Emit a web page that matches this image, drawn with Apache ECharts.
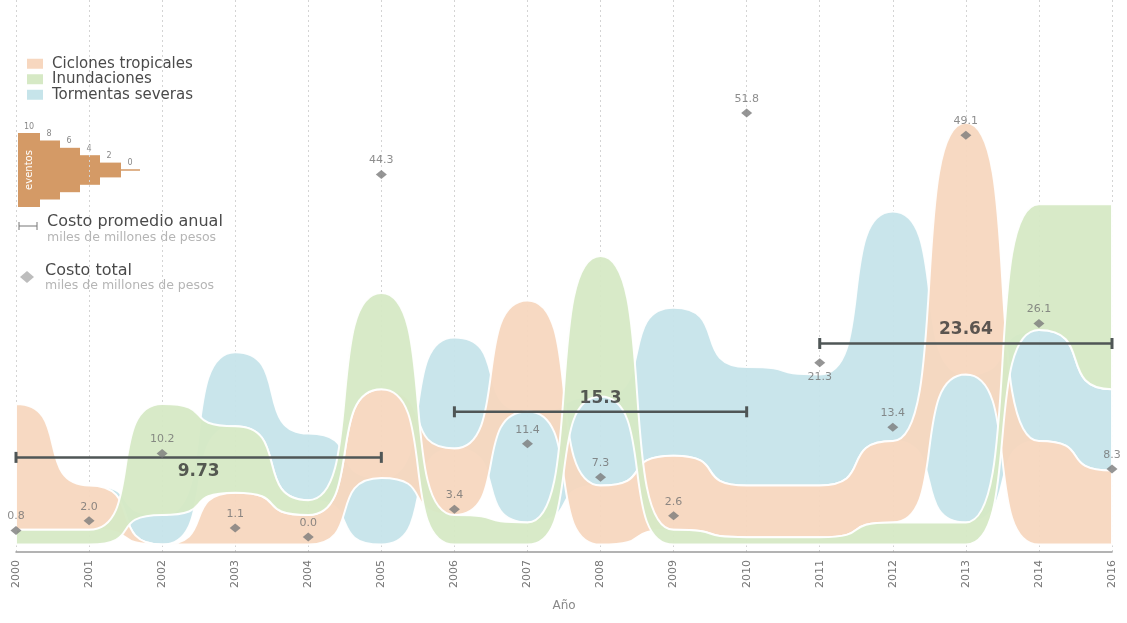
<!DOCTYPE html>
<html>
<head>
<meta charset="utf-8">
<script src="https://cdn.jsdelivr.net/npm/echarts@6/dist/echarts.min.js"></script>
<style>
html,body{margin:0;padding:0;background:#fff;}
#chart{width:1127px;height:623px;}
</style>
</head>
<body>
<div id="chart"></div>
<script>
// ---- data ----
const years = [2000,2001,2002,2003,2004,2005,2006,2007,2008,2009,2010,2011,2012,2013,2014,2015];
const yearLabels = ['2000','2001','2002','2003','2004','2005','2006','2007','2008','2009','2010','2011','2012','2013','2014','2016'];
// number of events per year
const ciclones      = [17, 6, 0, 7, 4,12, 9,15, 8,10, 7, 7,11,34,14,10];
const inundaciones  = [ 2, 2,15, 9, 2,13, 4, 3,19, 2, 1, 1, 3, 3,17,25];
const tormentas     = [ 0, 0, 4,10, 9, 9,15,15,12,20,16,15,31,20,15,11];
// stacking order per year, bottom -> top (C ciclones, I inundaciones, T tormentas)
const stackOrder = ['ICT','ICT','CTI','CIT','CIT','TCI','ICT','ITC','CTI','ICT','ICT','ICT','ICT','ITC','CTI','CTI'];
// total cost, miles de millones de pesos
const costoTotal = [0.8, 2.0, 10.2, 1.1, 0.0, 44.3, 3.4, 11.4, 7.3, 2.6, 51.8, 21.3, 13.4, 49.1, 26.1, 8.3];
// average annual cost segments
const avgStart = [2000, 2006, 2011];
const avgEnd   = [2005, 2010, 2015];
const avgValue = [9.73, 15.3, 23.64];
const avgLabelPos = ['bottom', 'top', 'top'];

// drawing order: first drawn is at the back
const types = [
  {key:'T', name:'Tormentas severas',   data:tormentas,    color:'#c6e4ea'},
  {key:'C', name:'Ciclones tropicales', data:ciclones,     color:'#f7d7bf'},
  {key:'I', name:'Inundaciones',        data:inundaciones, color:'#d6e9c5'}
];
const byKey = {C:ciclones, I:inundaciones, T:tormentas};

function bounds(key) {
  const lower = years.map((y, i) => {
    let s = 0;
    for (const k of stackOrder[i]) { if (k === key) break; s += byKey[k][i]; }
    return s;
  });
  const upper = lower.map((v, i) => v + byKey[key][i]);
  return {lower, upper};
}

const K = 0.75;
function curve(pts) {
  let d = '';
  for (let i = 1; i < pts.length; i++) {
    const p0 = pts[i-1], p1 = pts[i];
    const dx = p1[0] - p0[0];
    d += ` C${p0[0]+dx*K},${p0[1]} ${p1[0]-dx*K},${p1[1]} ${p1[0]},${p1[1]}`;
  }
  return d;
}

const series = [];
types.forEach((t, idx) => {
  const b = bounds(t.key);
  series.push({
    type:'custom', name:t.name, coordinateSystem:'cartesian2d', silent:true, z:1 + idx * 0.1,
    itemStyle:{color:t.color},
    data:[[2000, 0]],
    renderItem:(params, api) => {
      const top = years.map((y,i)=>api.coord([y, b.upper[i]]));
      const bot = years.map((y,i)=>api.coord([y, b.lower[i]])).reverse();
      const d = `M${top[0][0]},${top[0][1]}` + curve(top) +
                ` L${bot[0][0]},${bot[0][1]}` + curve(bot) + ' Z';
      return {type:'path', shape:{pathData:d},
        style:{fill:t.color, opacity:0.95, stroke:'#ffffff', lineWidth:2}};
    }
  });
});

avgValue.forEach((v, k) => {
  series.push({
    type:'line', yAxisIndex:1, silent:true, z:6,
    data:[[avgStart[k], v], [avgEnd[k], v]],
    symbol:'rect', symbolSize:[3, 11], showSymbol:true,
    itemStyle:{color:'#4f5656'},
    lineStyle:{color:'#4f5656', width:2.5}
  });
  series.push({
    type:'scatter', yAxisIndex:1, silent:true, z:7, symbolSize:0,
    data:[[(avgStart[k]+avgEnd[k])/2, v]],
    label:{show:true, position:avgLabelPos[k], distance:avgLabelPos[k]==='top'?5:6,
      formatter:()=>String(v), fontSize:17, fontWeight:'bold', color:'#333', fontFamily:'DejaVu Sans'}
  });
});

series.push({
  type:'scatter', yAxisIndex:1, z:8, silent:true,
  symbol:'diamond', symbolSize:[11,9],
  itemStyle:{color:'#7b7b7b'},
  data: years.map((y,i)=>({value:[y, costoTotal[i]], label: i===11 ? {position:'bottom', distance:4} : undefined})),
  label:{show:true, position:'top', distance:4, formatter:p=>p.value[1].toFixed(1),
    color:'#707070', fontSize:11, fontFamily:'DejaVu Sans'}
});

const chart = echarts.init(document.getElementById('chart'), null, {renderer:'canvas'});
const legendFont = 'DejaVu Sans';
chart.setOption({
  animation:false,
  backgroundColor:'#ffffff',
  grid:{left:16, right:15, top:0, bottom:71},
  legend:{
    data:['Ciclones tropicales','Inundaciones','Tormentas severas'],
    orient:'vertical', left:22, top:51, icon:'rect', itemWidth:16, itemHeight:10, itemGap:0,
    textStyle:{fontSize:15, lineHeight:15.5, color:'#4a4a4a', fontFamily:legendFont, padding:[0,0,0,4]},
    selectedMode:false
  },
  xAxis:{
    type:'value', min:2000, max:2015, interval:1,
    axisLine:{show:true, onZero:false, lineStyle:{color:'#9a9a9a', width:1.5}},
    axisTick:{show:false},
    axisLabel:{rotate:90, margin:8, fontSize:11, color:'#777', fontFamily:'DejaVu Sans',
      showMinLabel:true, showMaxLabel:true,
      formatter:v=>yearLabels[Math.round(v-2000)]},
    splitLine:{show:true, lineStyle:{color:'#d4d4d4', type:[2,3], width:1}},
    name:'Año', nameLocation:'middle', nameGap:48,
    nameTextStyle:{fontSize:12, color:'#888', fontFamily:'DejaVu Sans'}
  },
  yAxis:[
    {type:'value', min:-1, max:73.6, show:false, splitLine:{show:false}},
    {type:'value', min:-1.83, max:65.61, show:false, splitLine:{show:false}}
  ],
  graphic:[
    // events scale legend
    {type:'rect', shape:{x:18, y:133, width:22, height:74}, style:{fill:'#d49a66'}},
    {type:'rect', shape:{x:40, y:140.4, width:20, height:59.2}, style:{fill:'#d49a66'}},
    {type:'rect', shape:{x:60, y:147.8, width:20, height:44.4}, style:{fill:'#d49a66'}},
    {type:'rect', shape:{x:80, y:155.2, width:20, height:29.6}, style:{fill:'#d49a66'}},
    {type:'rect', shape:{x:100, y:162.6, width:21, height:14.8}, style:{fill:'#d49a66'}},
    {type:'line', shape:{x1:121, y1:170, x2:140, y2:170}, style:{stroke:'#d49a66', lineWidth:1.5}},
    {type:'text', x:29, y:127, style:{text:'10', fontSize:8, fill:'#888', align:'center', verticalAlign:'middle', fontFamily:legendFont}},
    {type:'text', x:49, y:134, style:{text:'8', fontSize:8, fill:'#888', align:'center', verticalAlign:'middle', fontFamily:legendFont}},
    {type:'text', x:69, y:141, style:{text:'6', fontSize:8, fill:'#888', align:'center', verticalAlign:'middle', fontFamily:legendFont}},
    {type:'text', x:89, y:149, style:{text:'4', fontSize:8, fill:'#888', align:'center', verticalAlign:'middle', fontFamily:legendFont}},
    {type:'text', x:109, y:156, style:{text:'2', fontSize:8, fill:'#888', align:'center', verticalAlign:'middle', fontFamily:legendFont}},
    {type:'text', x:130, y:163, style:{text:'0', fontSize:8, fill:'#888', align:'center', verticalAlign:'middle', fontFamily:legendFont}},
    {type:'text', x:29, y:170, rotation:Math.PI/2, style:{text:'eventos', fontSize:10, fill:'#fff', align:'center', verticalAlign:'middle', fontFamily:legendFont}},
    // average cost legend
    {type:'line', shape:{x1:19, y1:226, x2:37, y2:226}, style:{stroke:'#777', lineWidth:1}},
    {type:'line', shape:{x1:19, y1:222, x2:19, y2:230}, style:{stroke:'#777', lineWidth:1}},
    {type:'line', shape:{x1:37, y1:222, x2:37, y2:230}, style:{stroke:'#777', lineWidth:1}},
    {type:'text', x:47, y:222, style:{text:'Costo promedio anual', fontSize:16, fill:'#4a4a4a', verticalAlign:'middle', fontFamily:legendFont}},
    {type:'text', x:47, y:238, style:{text:'miles de millones de pesos', fontSize:12.5, fill:'#b5b5b5', verticalAlign:'middle', fontFamily:legendFont}},
    // total cost legend
    {type:'polygon', shape:{points:[[27,271],[34,277],[27,283],[20,277]]}, style:{fill:'#bdbdbd'}},
    {type:'text', x:45, y:271, style:{text:'Costo total', fontSize:16, fill:'#4a4a4a', verticalAlign:'middle', fontFamily:legendFont}},
    {type:'text', x:45, y:286, style:{text:'miles de millones de pesos', fontSize:12.5, fill:'#b5b5b5', verticalAlign:'middle', fontFamily:legendFont}}
  ],
  series:series
});
</script>
</body>
</html>
